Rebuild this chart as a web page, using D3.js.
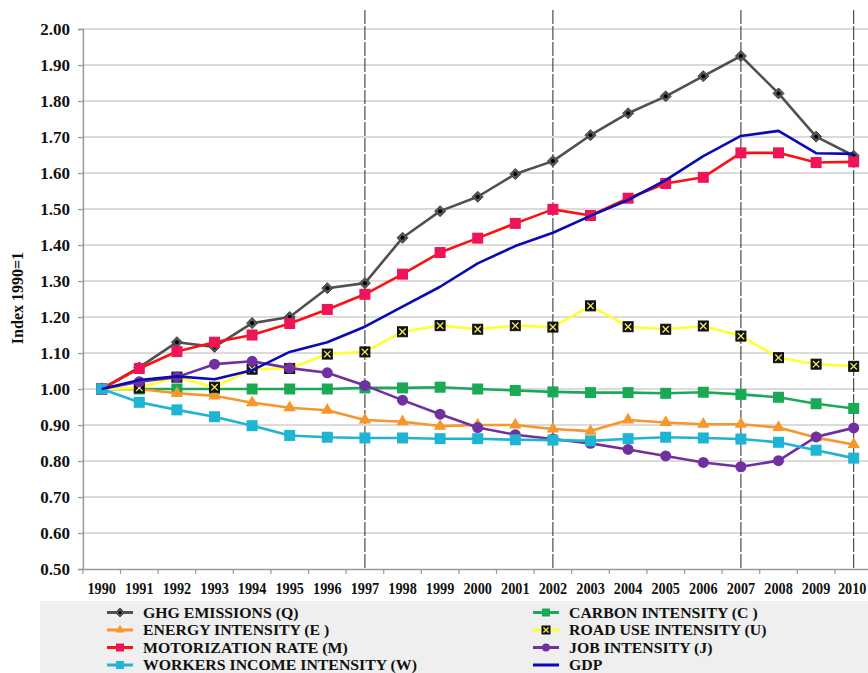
<!DOCTYPE html>
<html>
<head>
<meta charset="utf-8">
<script src="https://cdn.jsdelivr.net/npm/d3@7"></script>
<style>
  html, body { margin: 0; padding: 0; background: #fff; }
  svg { display: block; }
  text { font-family: "Liberation Serif", "Times New Roman", serif; font-weight: bold; fill: #111; }
</style>
</head>
<body>
<svg id="chart" width="868" height="673"></svg>
<script>
// Index values, 1990 = 1
const years = ["1990","1991","1992","1993","1994","1995","1996","1997","1998","1999","2000",
               "2001","2002","2003","2004","2005","2006","2007","2008","2009","2010"];
const yTicks = [0.5,0.6,0.7,0.8,0.9,1.0,1.1,1.2,1.3,1.4,1.5,1.6,1.7,1.8,1.9,2.0];
const markerYears = ["1997","2002","2007","2010"];

const ghg       = [1.00,1.06,1.13,1.117,1.183,1.20,1.28,1.294,1.42,1.494,1.534,1.597,1.633,1.705,1.766,1.813,1.869,1.925,1.821,1.701,1.648];
const carbon    = [1.00,1.00,1.00,1.00,1.00,1.00,1.00,1.003,1.003,1.005,1.00,0.996,0.992,0.99,0.99,0.988,0.991,0.985,0.977,0.959,0.946];
const energy    = [1.00,1.00,0.988,0.981,0.962,0.948,0.941,0.914,0.909,0.897,0.90,0.90,0.889,0.883,0.914,0.907,0.902,0.902,0.893,0.865,0.846];
const roadUse   = [1.00,1.003,1.033,1.005,1.055,1.057,1.097,1.103,1.159,1.176,1.166,1.176,1.172,1.231,1.173,1.166,1.175,1.147,1.087,1.069,1.063];
const motor     = [1.00,1.057,1.104,1.130,1.150,1.182,1.221,1.263,1.319,1.379,1.419,1.460,1.499,1.482,1.530,1.571,1.588,1.656,1.656,1.629,1.631];
const job       = [1.00,1.02,1.033,1.069,1.077,1.058,1.045,1.010,0.969,0.930,0.893,0.873,0.861,0.849,0.832,0.814,0.796,0.784,0.801,0.867,0.892];
const workers   = [1.00,0.963,0.942,0.923,0.898,0.871,0.866,0.864,0.864,0.862,0.862,0.859,0.858,0.856,0.862,0.866,0.864,0.861,0.852,0.830,0.808];
const gdp       = [1.00,1.025,1.035,1.027,1.052,1.103,1.130,1.173,1.229,1.284,1.349,1.397,1.434,1.481,1.525,1.580,1.647,1.703,1.717,1.655,1.653];

const series = [
  { name: "GHG EMISSIONS (Q)",            values: ghg,     line: "#505050", fill: "#3a3a3a", marker: "diamond" },
  { name: "CARBON INTENSITY (C )",        values: carbon,  line: "#1aaa55", fill: "#1aaa55", marker: "square" },
  { name: "ENERGY INTENSITY (E )",        values: energy,  line: "#f7962a", fill: "#f7962a", marker: "triangle" },
  { name: "ROAD USE INTENSITY (U)",       values: roadUse, line: "#ffff33", fill: "#111111", marker: "xsquare" },
  { name: "MOTORIZATION RATE (M)",        values: motor,   line: "#ff1010", fill: "#ee1458", marker: "square" },
  { name: "JOB INTENSITY (J)",            values: job,     line: "#7030a0", fill: "#7030a0", marker: "circle" },
  { name: "WORKERS INCOME INTENSITY (W)", values: workers, line: "#1fb4d4", fill: "#1fb4d4", marker: "square" },
  { name: "GDP",                          values: gdp,     line: "#0a0ab4", fill: "none",    marker: "none" }
];
// legend placement: left column then right column
const legendLeft  = ["GHG EMISSIONS (Q)","ENERGY INTENSITY (E )","MOTORIZATION RATE (M)","WORKERS INCOME INTENSITY (W)"];
const legendRight = ["CARBON INTENSITY (C )","ROAD USE INTENSITY (U)","JOB INTENSITY (J)","GDP"];

const svg = d3.select("#chart");
const plotLeft = 82.9, step = 37.6, plotTop = 29, plotBottom = 569;

const x = d3.scaleBand().domain(years).range([plotLeft, plotLeft + step * years.length]).padding(0);
const y = d3.scaleLinear().domain([0.5, 2.0]).range([plotBottom, plotTop]);
const cx = d => x(d) + x.bandwidth() / 2;

// horizontal gridlines
svg.append("g").selectAll("line").data(yTicks.slice(1)).join("line")
  .attr("x1", plotLeft).attr("x2", 868)
  .attr("y1", d => y(d)).attr("y2", d => y(d))
  .attr("stroke", "#cfcfcf").attr("stroke-width", 1.6);

// period separators
svg.append("g").selectAll("line").data(markerYears).join("line")
  .attr("x1", d => cx(d)).attr("x2", d => cx(d))
  .attr("y1", 10).attr("y2", plotBottom)
  .attr("stroke", "#2a2a2a").attr("stroke-width", 1)
  .attr("stroke-dasharray", "14,2");

// y axis
const yAxis = svg.append("g").attr("transform", `translate(${plotLeft},0)`)
  .call(d3.axisLeft(y).tickValues(yTicks).tickFormat(d3.format(".2f")).tickSize(5).tickPadding(8));
yAxis.select(".domain").attr("stroke", "#999").attr("stroke-width", 1.5);
yAxis.selectAll(".tick line").attr("stroke", "#999").attr("stroke-width", 1.2);
yAxis.selectAll("text").attr("font-size", 17).attr("font-family", null).attr("fill", "#111");

// x axis
const xAxis = svg.append("g").attr("transform", `translate(0,${plotBottom})`)
  .call(d3.axisBottom(x).tickSize(0).tickPadding(14));
xAxis.select(".domain").attr("stroke", "#999").attr("stroke-width", 1.5);
xAxis.selectAll("text").attr("font-size", 16).attr("font-family", null).attr("fill", "#111")
  .attr("textLength", 28.5).attr("lengthAdjust", "spacingAndGlyphs")
  .attr("dx", (d, i) => i === years.length - 1 ? -1.5 : 0);
// boundary ticks between years
svg.append("g").selectAll("line").data(years).join("line")
  .attr("x1", d => x(d)).attr("x2", d => x(d))
  .attr("y1", plotBottom).attr("y2", plotBottom + 5)
  .attr("stroke", "#999").attr("stroke-width", 1.2);

// y axis title
svg.append("text")
  .attr("transform", "translate(23,298) rotate(-90)")
  .attr("text-anchor", "middle")
  .attr("font-size", 16)
  .text("Index 1990=1");

function drawMarker(g, type, fill, size) {
  const s = size;
  if (type === "square") {
    g.append("rect").attr("x", -s/2).attr("y", -s/2).attr("width", s).attr("height", s).attr("fill", fill);
  } else if (type === "diamond") {
    const h = s / 2 + 0.5;
    g.append("path").attr("d", `M0,${-h}L${h},0L0,${h}L${-h},0Z`)
      .attr("fill", "#555").attr("stroke", "#444").attr("stroke-width", 1);
    g.append("circle").attr("r", s > 9 ? 2 : 1.5).attr("fill", "#000");
  } else if (type === "triangle") {
    g.append("path").attr("d", d3.symbol(d3.symbolTriangle, s * s * 0.55)()).attr("fill", fill);
  } else if (type === "circle") {
    g.append("circle").attr("r", s / 2).attr("fill", fill);
  } else if (type === "xsquare") {
    g.append("rect").attr("x", -s/2).attr("y", -s/2).attr("width", s).attr("height", s)
      .attr("fill", "#111").attr("stroke", "#111");
    const k = s * 0.32;
    g.append("path").attr("d", `M${-k},${-k}L${k},${k}M${-k},${k}L${k},${-k}`)
      .attr("stroke", "#f0f060").attr("stroke-width", 1.3);
  }
}

const markerSize = { square: 11, diamond: 10, triangle: 11, circle: 11, xsquare: 10 };

const line = d3.line().x((d, i) => cx(years[i])).y(d => y(d));

series.forEach(s => {
  const g = svg.append("g");
  g.append("path").datum(s.values)
    .attr("d", line).attr("fill", "none")
    .attr("stroke", s.line).attr("stroke-width", 2.6)
    .attr("stroke-linejoin", "round");
  if (s.marker !== "none") {
    s.values.forEach((v, i) => {
      const mg = g.append("g").attr("transform", `translate(${cx(years[i])},${y(v)})`);
      drawMarker(mg, s.marker, s.fill, markerSize[s.marker]);
    });
  }
});

// legend
svg.append("rect").attr("x", 40).attr("y", 601).attr("width", 828).attr("height", 72).attr("fill", "#efefef");
const rowY = [612.5, 630, 647.5, 665];
function legendItem(name, x0, row) {
  const s = series.find(d => d.name === name);
  const g = svg.append("g").attr("transform", `translate(${x0},${rowY[row]})`);
  g.append("line").attr("x1", 0).attr("x2", 26).attr("y1", 0).attr("y2", 0)
    .attr("stroke", s.line).attr("stroke-width", 3);
  if (s.marker !== "none") {
    const mg = g.append("g").attr("transform", "translate(13,0)");
    drawMarker(mg, s.marker, s.fill, 8);
  }
  const t = g.append("text").attr("x", 36).attr("y", 5).attr("font-size", 15.5).text(name);
  const w = t.node().getComputedTextLength();
  t.attr("textLength", w * 1.02).attr("lengthAdjust", "spacingAndGlyphs");
}
legendLeft.forEach((n, i) => legendItem(n, 107, i));
legendRight.forEach((n, i) => legendItem(n, 533, i));
</script>
</body>
</html>
